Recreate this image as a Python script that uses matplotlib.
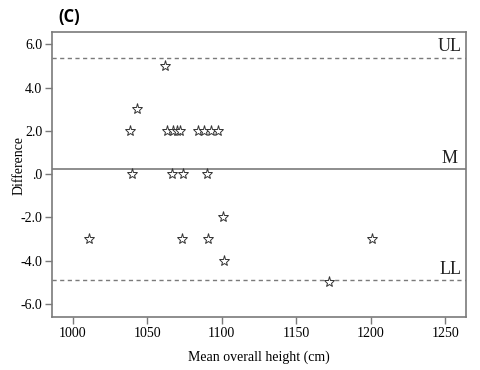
import matplotlib.pyplot as plt

# Bland-Altman style agreement plot, panel (C)
mean_height = [1038.5, 1043, 1039.5, 1062,
               1063, 1067.5, 1070, 1072, 1084, 1088, 1093, 1097.5,
               1066.5, 1074, 1090,
               1100.5, 1011, 1073, 1091, 1101.5, 1201, 1172]
difference = [2, 3, 0, 5,
              2, 2, 2, 2, 2, 2, 2, 2,
              0, 0, 0,
              -2, -3, -3, -3, -4, -3, -5]

upper_limit = 5.37
mean_diff = 0.23
lower_limit = -4.9

xticks = [1000, 1050, 1100, 1150, 1200, 1250]
yticks = [6, 4, 2, 0, -2, -4, -6]
ytick_labels = ["6.0", "4.0", "2.0", ".0", "-2.0", "-4.0", "-6.0"]

serif = "Liberation Serif"
grey = "#7a7a7a"

fig = plt.figure(figsize=(4.8, 3.7), dpi=100)
ax = fig.add_axes([0.1083, 0.1432, 0.8627, 0.7703])

ax.axhline(upper_limit, color=grey, lw=1, ls=(0, (3, 2.5)))
ax.axhline(mean_diff, color=grey, lw=1.2)
ax.axhline(lower_limit, color=grey, lw=1, ls=(0, (3, 2.5)))

ax.plot(mean_height, difference, ls="none", marker="*", ms=8,
        mfc="white", mec="#333333", mew=0.7)

ax.text(1261, upper_limit + 0.12, "UL", ha="right", va="bottom",
        fontsize=13, family=serif, color="#222222")
ax.text(1258, mean_diff + 0.12, "M", ha="right", va="bottom",
        fontsize=13, family=serif, color="#222222")
ax.text(1261, lower_limit + 0.12, "LL", ha="right", va="bottom",
        fontsize=13, family=serif, color="#222222")

ax.set_xlim(986, 1264)
ax.set_ylim(-6.6, 6.57)
ax.set_xticks(xticks)
ax.set_yticks(yticks)
ax.set_yticklabels(ytick_labels)
for lab in ax.get_xticklabels() + ax.get_yticklabels():
    lab.set_family(serif)
    lab.set_fontsize(10)
ax.tick_params(direction="out", length=5, width=1, color=grey, pad=2)

for s in ax.spines.values():
    s.set_color(grey)
    s.set_linewidth(1.2)

ax.set_xlabel("Mean overall height (cm)", family=serif, fontsize=10, labelpad=8)
ax.set_ylabel("Difference", family=serif, fontsize=10)
ax.yaxis.set_label_coords(-0.065, 0.53)

fig.text(0.121, 0.955, "(C)", fontsize=12, fontweight="bold",
         family="Open Sans", va="center", ha="left")

fig.savefig("out.png", dpi=100)
